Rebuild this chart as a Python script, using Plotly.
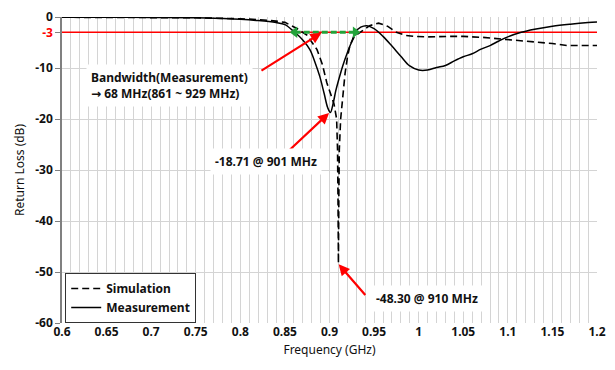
import plotly.graph_objects as go

# ---- data ----
freq_meas = [0.60, 0.65, 0.70, 0.75, 0.78, 0.80, 0.82, 0.84, 0.85, 0.861, 0.87, 0.878, 0.884,
             0.889, 0.894, 0.898, 0.901, 0.904, 0.907, 0.910, 0.915, 0.920, 0.925, 0.929, 0.935,
             0.942, 0.95, 0.96, 0.97, 0.98, 0.99, 1.00, 1.01, 1.02, 1.03, 1.04, 1.05, 1.06, 1.07,
             1.08, 1.09, 1.10, 1.115, 1.13, 1.15, 1.17, 1.19, 1.20]
meas_db = [-0.05, -0.05, -0.1, -0.15, -0.3, -0.45, -0.7, -1.1, -1.5, -3.0, -4.5, -6.4, -9.0,
           -11.6, -15.0, -17.8, -18.71, -17.0, -14.5, -12.5, -9.5, -7.0, -4.8, -3.0, -2.0,
           -1.7, -2.3, -3.8, -5.7, -7.7, -9.6, -10.4, -10.4, -9.9, -9.5, -8.6, -7.8, -7.2, -6.3,
           -5.6, -4.7, -3.9, -3.0, -2.4, -1.8, -1.4, -1.1, -1.0]

freq_sim = [0.60, 0.70, 0.75, 0.80, 0.82, 0.84, 0.85, 0.863, 0.875, 0.886, 0.892, 0.897, 0.902,
            0.905, 0.908, 0.909, 0.9095, 0.910, 0.9105, 0.911, 0.9125, 0.915, 0.9175, 0.92,
            0.923, 0.928, 0.934, 0.945, 0.955, 0.965, 0.975, 0.985, 0.995, 1.01, 1.035, 1.05,
            1.072, 1.10, 1.127, 1.15, 1.166, 1.2]
sim_db = [-0.05, -0.1, -0.15, -0.35, -0.5, -0.8, -1.05, -2.2, -3.6, -6.4, -9.3, -12.9, -15.5,
          -17.0, -20.0, -26.0, -35.0, -48.3, -35.0, -26.0, -20.0, -15.0, -11.0, -8.0,
          -5.5, -3.8, -3.0, -1.7, -1.2, -1.8, -3.0, -3.6, -3.8, -3.9, -3.8, -3.8,
          -4.0, -4.4, -4.8, -5.2, -5.6, -5.6]

x_tickvals = [0.6, 0.65, 0.7, 0.75, 0.8, 0.85, 0.9, 0.95, 1.0, 1.05, 1.1, 1.15, 1.2]
x_ticktext = ["0.6", "0.65", "0.7", "0.75", "0.8", "0.85", "0.9", "0.95", "1", "1.05", "1.1", "1.15", "1.2"]
y_tickvals = [0, -3, -10, -20, -30, -40, -50, -60]
y_ticktext = ["0", "<span style='color:#ff0000'>-3</span>", "-10", "-20", "-30", "-40", "-50", "-60"]

ref_freq = [0.6, 1.2]
ref_level = [-3, -3]
bw_freq = [0.861, 0.929]
bw_level = [-3, -3]

FONT = "Noto Sans"
GRID = "#d4d4d4"

fig = go.Figure()
# -3 dB reference line (drawn first, under the curves)
fig.add_trace(go.Scatter(x=ref_freq, y=ref_level, mode="lines", showlegend=False,
                         line=dict(color="#ff0000", width=1.5)))
fig.add_trace(go.Scatter(x=freq_sim, y=sim_db, mode="lines", name="Simulation",
                         line=dict(color="black", width=1.6, dash="7px,4px")))
fig.add_trace(go.Scatter(x=freq_meas, y=meas_db, mode="lines", name="Measurement",
                         line=dict(color="black", width=1.5), line_shape="spline"))

# green bandwidth arrow
fig.add_trace(go.Scatter(x=bw_freq, y=bw_level, mode="lines+markers", showlegend=False,
                         line=dict(color="#22a33a", width=3, dash="6px,3px"),
                         marker=dict(symbol=["triangle-left", "triangle-right"], size=10,
                                     color="#22a33a")))

ann_font = dict(family=FONT, size=12, color="#111111", weight="bold")
arrow = dict(showarrow=True, arrowhead=2, arrowsize=1, arrowwidth=2.2, arrowcolor="#ff0000",
             axref="x", ayref="y", text="")

fig.add_annotation(x=0.891, y=-3.1, ax=0.822, ay=-10.7, **arrow)
fig.add_annotation(x=0.8995, y=-18.8, ax=0.8538, ay=-26.3, **arrow)
fig.add_annotation(x=0.9103, y=-48.5, ax=0.9416, ay=-54.8, **arrow)

fig.add_annotation(x=0.627, y=-13.4, xanchor="left", yanchor="middle", align="left",
                   text="Bandwidth(Measurement)<br><span style='font-family:DejaVu Sans'>→</span> 68 MHz(861 ~ 929 MHz)",
                   showarrow=False, bgcolor="white", font=ann_font, borderpad=4)
fig.add_annotation(x=0.766, y=-28.3, xanchor="left", yanchor="middle",
                   text="-18.71 @ 901 MHz", showarrow=False, bgcolor="white",
                   font=ann_font, borderpad=4)
fig.add_annotation(x=0.946, y=-55.2, xanchor="left", yanchor="middle",
                   text="-48.30 @ 910 MHz", showarrow=False, bgcolor="white",
                   font=ann_font, borderpad=4)

fig.update_layout(
    width=615, height=370,
    margin=dict(l=62, r=18, t=17, b=47),
    paper_bgcolor="white", plot_bgcolor="white",
    font=dict(family=FONT, size=12, color="#111111"),
    showlegend=True,
    hovermode=False,
    legend=dict(x=0.006, y=0.0, xanchor="left", yanchor="bottom",
                bgcolor="white", bordercolor="#333333", borderwidth=1,
                font=dict(family=FONT, size=12, color="#111111", weight="bold"),
                tracegroupgap=2),
    xaxis=dict(range=[0.6, 1.2], tickmode="array", tickvals=x_tickvals, ticktext=x_ticktext,
               automargin=False,
               showgrid=True, gridcolor=GRID, gridwidth=1, zeroline=False, showline=False,
               ticks="", tickfont=dict(family=FONT, size=12, color="#111111", weight="bold"),
               minor=dict(tick0=0.6, dtick=0.01, showgrid=True, gridcolor=GRID, gridwidth=1),
               title=dict(text="Frequency (GHz)", standoff=6,
                          font=dict(family=FONT, size=12, color="#111111"))),
    yaxis=dict(range=[-60, 0], tickmode="array", tickvals=y_tickvals, ticktext=y_ticktext,
               automargin=False,
               showgrid=True, gridcolor=GRID, gridwidth=1, zeroline=False,
               showline=True, linecolor="#808080", linewidth=1.5,
               ticks="outside", ticklen=5, tickcolor="#808080",
               tickfont=dict(family=FONT, size=12, color="#111111", weight="bold"),
               title=dict(text="Return Loss (dB)", standoff=8,
                          font=dict(family=FONT, size=12, color="#111111"))),
)

fig.write_html("out.html", config={"displayModeBar": False},
               post_script="document.body.style.margin='0';document.body.style.overflow='hidden';")
